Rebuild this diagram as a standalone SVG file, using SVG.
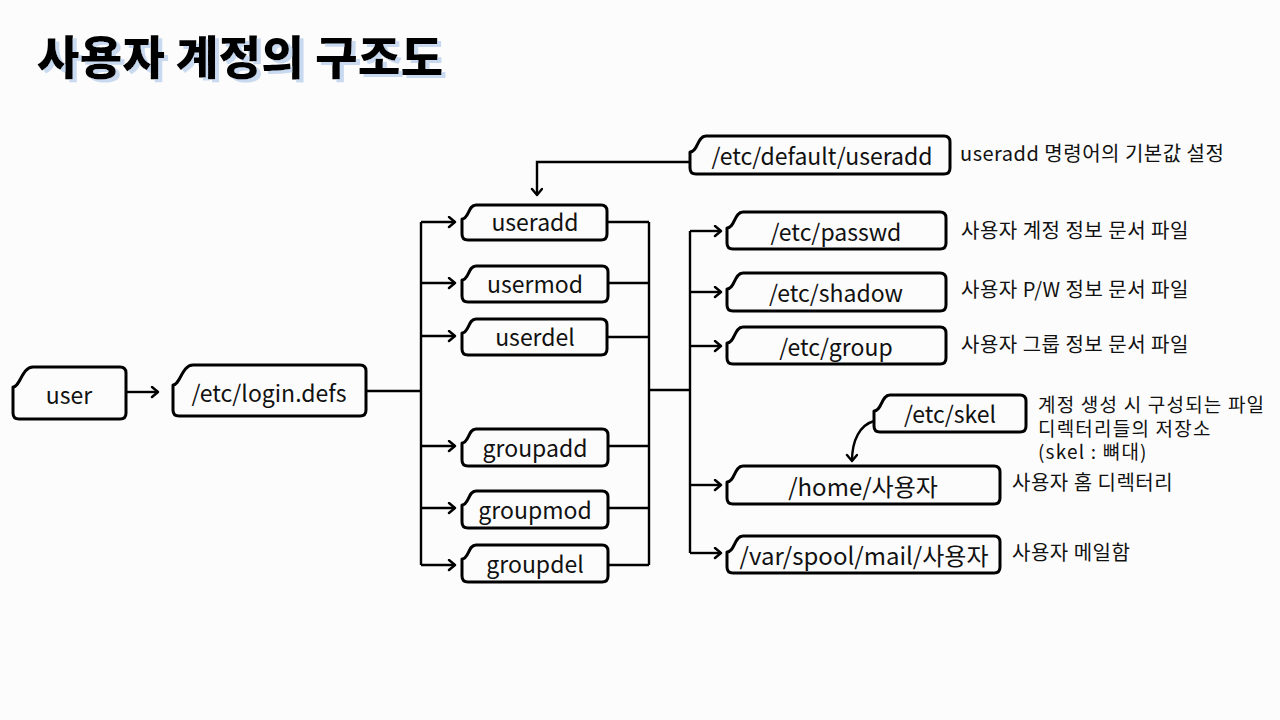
<svg xmlns="http://www.w3.org/2000/svg" width="1280" height="720" viewBox="0 0 1280 720">
<defs>
<marker id="ah" markerUnits="userSpaceOnUse" markerWidth="14" markerHeight="14" refX="9" refY="6" orient="auto">
<path d="M3,1 L9,6 L3,11" fill="none" stroke="#000" stroke-width="2.4" stroke-linecap="round" stroke-linejoin="round"/>
</marker>
<filter id="shadow" x="-5%" y="-20%" width="115%" height="150%">
<feOffset in="SourceAlpha" dx="4" dy="3" result="off"/>
<feFlood flood-color="#c9d9ef"/>
<feComposite in2="off" operator="in" result="sh"/>
<feMerge><feMergeNode in="sh"/><feMergeNode in="SourceGraphic"/></feMerge>
</filter>
</defs>
<style>
.bg{fill:#fcfcfc}
.node{fill:#fcfcfc;stroke:#000;stroke-width:3;stroke-linejoin:round}
.lbl{font-family:"Noto Sans CJK KR","Noto Sans",sans-serif;font-size:23px;fill:#111;text-anchor:middle;dominant-baseline:central}
.note{font-family:"Noto Sans CJK KR","Noto Sans",sans-serif;font-size:20px;letter-spacing:0.5px;fill:#111}
.note2{font-family:"Noto Sans CJK KR","Noto Sans",sans-serif;font-size:19px;letter-spacing:1.2px;fill:#111}
.conn{fill:none;stroke:#000;stroke-width:2.4}
.title{font-family:"Noto Sans CJK KR",sans-serif;font-weight:900;font-size:46px}
</style>
<rect class="bg" x="0" y="0" width="1280" height="720"/>

<g id="title">
<text class="title" x="37" y="74" fill="#000" textLength="406" lengthAdjust="spacing" filter="url(#shadow)">사용자 계정의 구조도</text>
</g>

<g id="connectors">
<path class="conn" d="M126,392 H158" marker-end="url(#ah)"/>
<path class="conn" d="M366,391 H421 M421,222 V565"/>
<path class="conn" d="M421,222 H455" marker-end="url(#ah)"/>
<path class="conn" d="M421,283 H455" marker-end="url(#ah)"/>
<path class="conn" d="M421,336 H455" marker-end="url(#ah)"/>
<path class="conn" d="M421,446 H455" marker-end="url(#ah)"/>
<path class="conn" d="M421,508 H455" marker-end="url(#ah)"/>
<path class="conn" d="M421,565 H455" marker-end="url(#ah)"/>
<path class="conn" d="M607,222 H649 M608,283 H649 M607,337 H649 M608,446 H649 M608,508 H649 M608,565 H649 M649,222 V565 M649,390 H690 M690,231 V553"/>
<path class="conn" d="M690,231 H721" marker-end="url(#ah)"/>
<path class="conn" d="M690,292 H721" marker-end="url(#ah)"/>
<path class="conn" d="M690,346 H721" marker-end="url(#ah)"/>
<path class="conn" d="M690,485 H721" marker-end="url(#ah)"/>
<path class="conn" d="M690,553 H721" marker-end="url(#ah)"/>
<path class="conn" d="M690,162 H537 V195" marker-end="url(#ah)"/>
<path class="conn" d="M874,421 C860,425 852,440 852,461" marker-end="url(#ah)"/>
</g>

<g id="n-user">
<path class="node" d="M33,367 H120 Q126,367 126,373 V413 Q126,419 120,419 H19 Q13,419 13,413 V387 C20,387 22,367 33,367 Z"/>
<text class="lbl" x="69" y="394">user</text>
</g>
<g id="n-logindefs">
<path class="node" d="M193,365 H360 Q366,365 366,371 V410 Q366,416 360,416 H179 Q173,416 173,410 V385 C180,385 182,365 193,365 Z"/>
<text class="lbl" x="269" y="392">/etc/login.defs</text>
</g>
<g id="n-useradd">
<path class="node" d="M476,205 H601 Q607,205 607,211 V234 Q607,240 601,240 H468 Q462,240 462,234 V219 C469,219 468,205 476,205 Z"/>
<text class="lbl" x="535" y="221">useradd</text>
</g>
<g id="n-usermod">
<path class="node" d="M476,266 H602 Q608,266 608,272 V296 Q608,302 602,302 H468 Q462,302 462,296 V280 C469,280 468,266 476,266 Z"/>
<text class="lbl" x="535" y="283">usermod</text>
</g>
<g id="n-userdel">
<path class="node" d="M476,319 H601 Q607,319 607,325 V349 Q607,355 601,355 H468 Q462,355 462,349 V333 C469,333 468,319 476,319 Z"/>
<text class="lbl" x="535" y="336">userdel</text>
</g>
<g id="n-groupadd">
<path class="node" d="M476,429 H602 Q608,429 608,435 V460 Q608,466 602,466 H468 Q462,466 462,460 V443 C469,443 468,429 476,429 Z"/>
<text class="lbl" x="535" y="447">groupadd</text>
</g>
<g id="n-groupmod">
<path class="node" d="M476,491 H602 Q608,491 608,497 V522 Q608,528 602,528 H468 Q462,528 462,522 V505 C469,505 468,491 476,491 Z"/>
<text class="lbl" x="535" y="509">groupmod</text>
</g>
<g id="n-groupdel">
<path class="node" d="M476,545 H602 Q608,545 608,551 V576 Q608,582 602,582 H468 Q462,582 462,576 V559 C469,559 468,545 476,545 Z"/>
<text class="lbl" x="535" y="563">groupdel</text>
</g>
<g id="n-default">
<path class="node" d="M706,136 H944 Q950,136 950,142 V168 Q950,174 944,174 H696 Q690,174 690,168 V152 C698,152 697,136 706,136 Z"/>
<text class="lbl" x="822" y="155">/etc/default/useradd</text>
</g>
<g id="n-passwd">
<path class="node" d="M743,212 H940 Q946,212 946,218 V243 Q946,249 940,249 H733 Q727,249 727,243 V228 C735,228 734,212 743,212 Z"/>
<text class="lbl" x="836" y="231">/etc/passwd</text>
</g>
<g id="n-shadow">
<path class="node" d="M743,273 H940 Q946,273 946,279 V305 Q946,311 940,311 H733 Q727,311 727,305 V289 C735,289 734,273 743,273 Z"/>
<text class="lbl" x="836" y="292">/etc/shadow</text>
</g>
<g id="n-group">
<path class="node" d="M743,327 H940 Q946,327 946,333 V358 Q946,364 940,364 H733 Q727,364 727,358 V343 C735,343 734,327 743,327 Z"/>
<text class="lbl" x="836" y="346">/etc/group</text>
</g>
<g id="n-skel">
<path class="node" d="M890,395 H1020 Q1026,395 1026,401 V426 Q1026,432 1020,432 H880 Q874,432 874,426 V411 C882,411 881,395 890,395 Z"/>
<text class="lbl" x="950" y="413">/etc/skel</text>
</g>
<g id="n-home">
<path class="node" d="M743,466 H994 Q1000,466 1000,472 V498 Q1000,504 994,504 H733 Q727,504 727,498 V482 C735,482 734,466 743,466 Z"/>
<text class="lbl" x="863" y="485" style="font-size:24px">/home/사용자</text>
</g>
<g id="n-mail">
<path class="node" d="M743,536 H994 Q1000,536 1000,542 V567 Q1000,573 994,573 H733 Q727,573 727,567 V552 C735,552 734,536 743,536 Z"/>
<text class="lbl" x="864" y="554" style="font-size:24px">/var/spool/mail/사용자</text>
</g>

<g id="notes">
<text class="note" x="960" y="161">useradd 명령어의 기본값 설정</text>
<text class="note" x="961" y="238">사용자 계정 정보 문서 파일</text>
<text class="note" x="961" y="297">사용자 P/W 정보 문서 파일</text>
<text class="note" x="961" y="352">사용자 그룹 정보 문서 파일</text>
<text class="note2" x="1038" y="412"><tspan x="1038" y="412">계정 생성 시 구성되는 파일</tspan><tspan x="1038" y="436">디렉터리들의 저장소</tspan><tspan x="1038" y="459">(skel : 뼈대)</tspan></text>
<text class="note" x="1012" y="490">사용자 홈 디렉터리</text>
<text class="note" x="1012" y="560">사용자 메일함</text>
</g>
</svg>
